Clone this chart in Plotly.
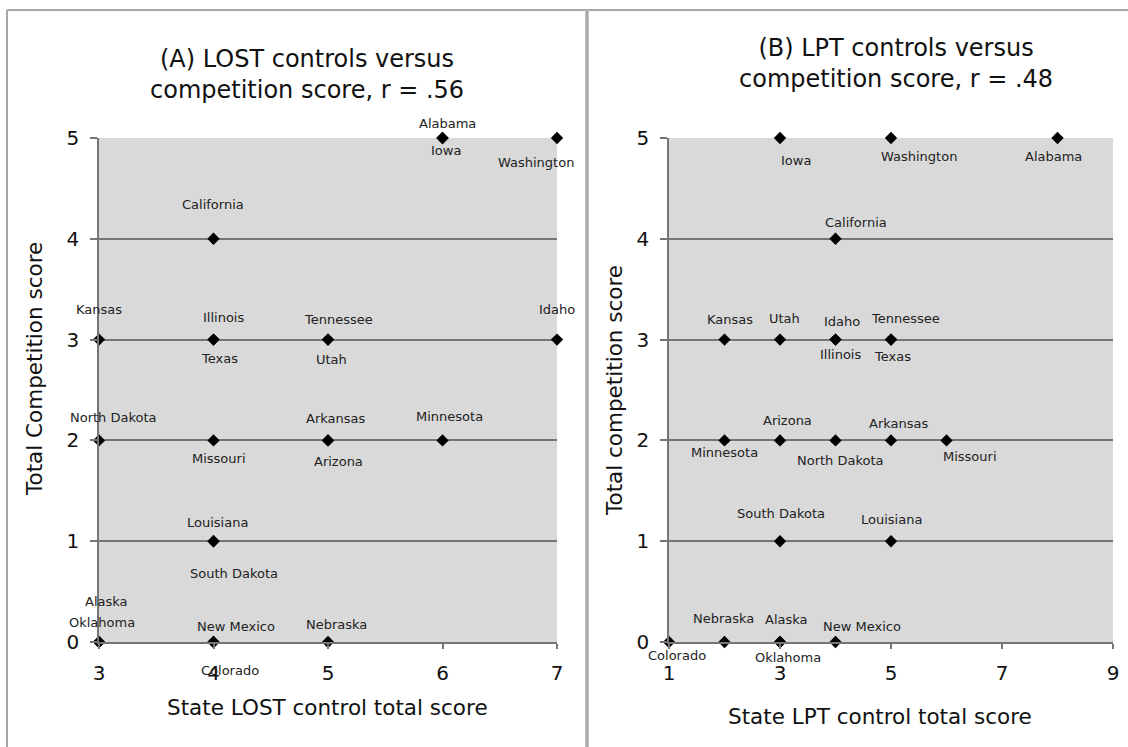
import plotly.graph_objects as go

# ---- data -------------------------------------------------------------
lost_states = ["Alabama", "Iowa", "Washington", "California", "Kansas", "Illinois",
               "Texas", "Tennessee", "Utah", "Idaho", "North Dakota", "Missouri",
               "Arkansas", "Arizona", "Minnesota", "Louisiana", "South Dakota",
               "Alaska", "Oklahoma", "New Mexico", "Colorado", "Nebraska"]
lost_control = [6, 6, 7, 4, 3, 4, 4, 5, 5, 7, 3, 4, 5, 5, 6, 4, 4, 3, 3, 4, 4, 5]
lost_competition = [5, 5, 5, 4, 3, 3, 3, 3, 3, 3, 2, 2, 2, 2, 2, 1, 1, 0, 0, 0, 0, 0]

lpt_states = ["Iowa", "Washington", "Alabama", "California", "Kansas", "Utah",
              "Idaho", "Tennessee", "Illinois", "Texas", "Arizona", "Arkansas",
              "Minnesota", "North Dakota", "Missouri", "South Dakota", "Louisiana",
              "Nebraska", "Alaska", "New Mexico", "Colorado", "Oklahoma"]
lpt_control = [3, 5, 8, 4, 2, 3, 4, 5, 4, 5, 3, 5, 2, 4, 6, 3, 5, 2, 3, 4, 1, 3]
lpt_competition = [5, 5, 5, 4, 3, 3, 3, 3, 3, 3, 2, 2, 2, 2, 2, 1, 1, 0, 0, 0, 0, 0]

y_ticks = [0, 1, 2, 3, 4, 5]
lost_x_ticks = [3, 4, 5, 6, 7]
lpt_x_ticks = [1, 3, 5, 7, 9]

# ---- label placement (pixel offsets from each point: right, down) ----
lost_label_offset = {
    "Alabama": (5, -14), "Iowa": (3, 13), "Washington": (-21, 25),
    "California": (-1, -34), "Kansas": (0, -30), "Illinois": (10, -22),
    "Texas": (6, 19), "Tennessee": (10, -20), "Utah": (3, 20), "Idaho": (0, -30),
    "North Dakota": (14, -23), "Missouri": (5, 18), "Arkansas": (7, -22),
    "Arizona": (10, 21), "Minnesota": (7, -24), "Louisiana": (4, -19),
    "South Dakota": (20, 32), "Alaska": (7, -41), "Oklahoma": (3, -20),
    "New Mexico": (22, -16), "Colorado": (16, 28), "Nebraska": (8, -18),
}
lpt_label_offset = {
    "Iowa": (16, 23), "Washington": (28, 19), "Alabama": (-4, 19),
    "California": (20, -16), "Kansas": (5, -20), "Utah": (4, -21),
    "Idaho": (6, -18), "Tennessee": (14, -21), "Illinois": (5, 15),
    "Texas": (1, 17), "Arizona": (7, -20), "Arkansas": (7, -17),
    "Minnesota": (0, 12), "North Dakota": (5, 20), "Missouri": (23, 16),
    "South Dakota": (1, -28), "Louisiana": (0, -22), "Nebraska": (-1, -24),
    "Alaska": (6, -23), "New Mexico": (26, -16), "Colorado": (8, 13),
    "Oklahoma": (8, 15),
}

W, H = 1128, 747
FONT = "DejaVu Sans"
PLOT_BG = "#d9d9d9"
GRID = "#757575"
FRAME = "#a6a6a6"
TEXT = "#111111"


def px(x):
    return x / W


def py(y):
    return 1 - y / H


def paper_text(x, y, text, size, angle=0):
    return dict(x=px(x), y=py(y), xref="paper", yref="paper", showarrow=False,
                xanchor="center", yanchor="middle", text=text, textangle=angle,
                font=dict(family=FONT, size=size, color=TEXT))


fig = go.Figure()

fig.add_trace(go.Scatter(
    x=lost_control, y=lost_competition, mode="markers", xaxis="x", yaxis="y",
    marker=dict(symbol="diamond", size=9.5, color="black"),
    cliponaxis=False, hoverinfo="text", text=lost_states, showlegend=False))
fig.add_trace(go.Scatter(
    x=lpt_control, y=lpt_competition, mode="markers", xaxis="x2", yaxis="y2",
    marker=dict(symbol="diamond", size=9.5, color="black"),
    cliponaxis=False, hoverinfo="text", text=lpt_states, showlegend=False))

annotations = []
for name, xv, yv in zip(lost_states, lost_control, lost_competition):
    dx, dy = lost_label_offset[name]
    annotations.append(dict(x=xv, y=yv, xref="x", yref="y", text=name,
                            showarrow=False, xanchor="center", yanchor="middle",
                            xshift=dx, yshift=-dy,
                            font=dict(family=FONT, size=13, color="#222222")))
for name, xv, yv in zip(lpt_states, lpt_control, lpt_competition):
    dx, dy = lpt_label_offset[name]
    annotations.append(dict(x=xv, y=yv, xref="x2", yref="y2", text=name,
                            showarrow=False, xanchor="center", yanchor="middle",
                            xshift=dx, yshift=-dy,
                            font=dict(family=FONT, size=13, color="#222222")))

# panel titles
annotations += [
    paper_text(307, 74, "(A) LOST controls versus<br>competition score, r = .56", 24),
    paper_text(896, 64, "(B) LPT controls versus<br>competition score, r = .48", 24),
]
# axis titles
annotations += [
    paper_text(327, 707, "State LOST control total score", 21.5),
    paper_text(880, 716, "State LPT control total score", 21.5),
    paper_text(35, 369, "Total Competition score", 21.5, -90),
    paper_text(615, 391, "Total competition score", 21.5, -90),
]

shapes = [
    dict(type="line", xref="paper", yref="paper", x0=px(7), x1=1, y0=py(10), y1=py(10),
         line=dict(color=FRAME, width=2)),
    dict(type="line", xref="paper", yref="paper", x0=px(7), x1=px(7), y0=py(10), y1=0,
         line=dict(color=FRAME, width=2)),
    dict(type="line", xref="paper", yref="paper", x0=px(587), x1=px(587), y0=py(10), y1=0,
         line=dict(color="#c4c4c4", width=4)),
    dict(type="line", xref="paper", yref="paper", x0=px(587), x1=px(587), y0=py(10), y1=0,
         line=dict(color="#8c8c8c", width=1)),
]

common_y = dict(range=[0, 5], tickvals=y_ticks, showgrid=True, gridcolor=GRID,
                gridwidth=1.5, zeroline=False, showline=True, linecolor=GRID,
                linewidth=1.5, ticks="outside", ticklen=7, tickcolor=GRID,
                tickwidth=1.5, ticklabelstandoff=7, automargin=False,
                tickfont=dict(family=FONT, size=20, color=TEXT))
common_x = dict(showgrid=False, zeroline=False, showline=True, linecolor=GRID,
                linewidth=1.5, ticks="outside", ticklen=5, tickcolor=GRID,
                tickwidth=1.5, ticklabelstandoff=7, automargin=False,
                tickfont=dict(family=FONT, size=20, color=TEXT))

fig.update_layout(
    template="none",
    width=W, height=H, margin=dict(l=0, r=0, t=0, b=0, pad=0), autosize=False,
    paper_bgcolor="white", plot_bgcolor=PLOT_BG,
    xaxis=dict(domain=[px(99), px(557)], range=[3, 7], tickvals=lost_x_ticks,
               anchor="y", **common_x),
    yaxis=dict(domain=[py(642), py(138)], anchor="x", **common_y),
    xaxis2=dict(domain=[px(669), px(1113)], range=[1, 9], tickvals=lpt_x_ticks,
                anchor="y2", **common_x),
    yaxis2=dict(domain=[py(642), py(138)], anchor="x2", **common_y),
    annotations=annotations, shapes=shapes,
)

fig.write_html("out.html")
